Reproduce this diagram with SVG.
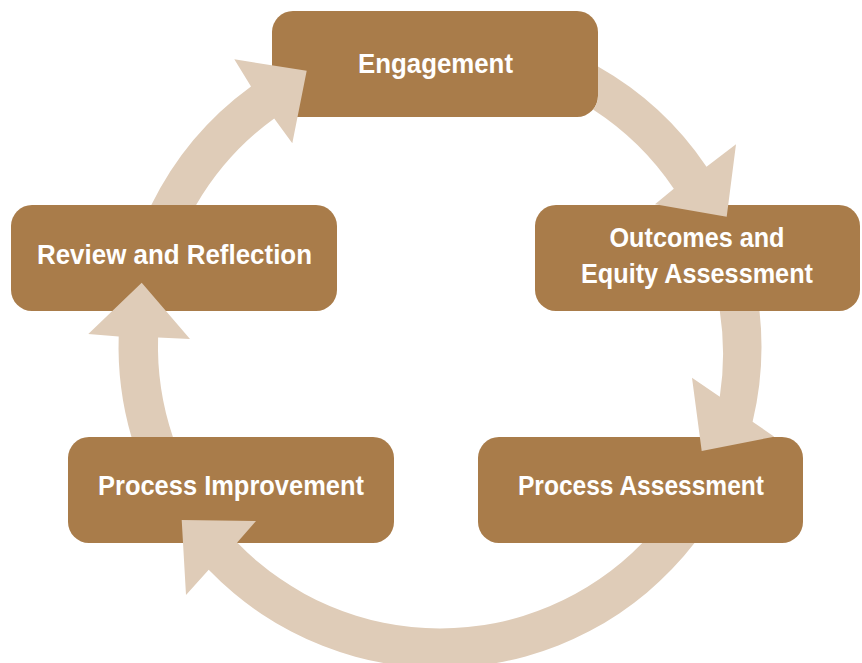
<svg xmlns="http://www.w3.org/2000/svg" width="862" height="663" viewBox="0 0 862 663">
<style>
.box{fill:#A97C4A}
.lbl{fill:#FFFFFF;font-family:"Liberation Sans",Arial,sans-serif;font-weight:bold;font-size:27px;text-anchor:middle}
.arr{fill:#DFCCB8}
</style>
<rect width="862" height="663" fill="#FFFFFF"/>
<g id="nodes">
<g id="engagement"><rect class="box" x="272" y="11" width="326" height="106" rx="21"/><text class="lbl" x="435.5" y="73" textLength="155" lengthAdjust="spacingAndGlyphs">Engagement</text></g>
<g id="outcomes"><rect class="box" x="535" y="205" width="325" height="106" rx="21"/><text class="lbl" x="697" y="247" textLength="175" lengthAdjust="spacingAndGlyphs">Outcomes and</text><text class="lbl" x="697" y="283" textLength="232" lengthAdjust="spacingAndGlyphs">Equity Assessment</text></g>
<g id="process-assessment"><rect class="box" x="478" y="437" width="325" height="106" rx="21"/><text class="lbl" x="641" y="495" textLength="246" lengthAdjust="spacingAndGlyphs">Process Assessment</text></g>
<g id="process-improvement"><rect class="box" x="68" y="437" width="326" height="106" rx="21"/><text class="lbl" x="231" y="495" textLength="266" lengthAdjust="spacingAndGlyphs">Process Improvement</text></g>
<g id="review"><rect class="box" x="11" y="205" width="326" height="106" rx="21"/><text class="lbl" x="174.5" y="264" textLength="275" lengthAdjust="spacingAndGlyphs">Review and Reflection</text></g>
</g>
<g id="connectors">
<path class="arr" d="M151.3,205 A321.5,321.5 0 0 1 251,86.4 L234.3,59.3 L306.7,70.7 L292.3,143.3 L274.2,118.4 A282,282 0 0 0 196.1,205 Z"/>
<path class="arr" d="M598,66.5 A321.5,321.5 0 0 1 706.5,166.7 L736,144.3 L726.7,216.7 L655,204.3 L673.8,188.8 A282,282 0 0 0 593,109.6 A21,21 0 0 0 598,96 Z"/>
<path class="arr" d="M759.5,311 A321.5,321.5 0 0 1 752.6,421.7 L774.3,436.7 L701.7,451 L692,377.7 L719.8,396.7 A282,282 0 0 0 719.8,311 Z"/>
<path class="arr" d="M694.5,543 A321.5,321.5 0 0 1 208.7,569.8 L186,595 L181.7,520 L256,521 L237.2,542.4 A282,282 0 0 0 642.3,543 Z"/>
<path class="arr" d="M131.5,437 A321.5,321.5 0 0 1 118.7,336.4 L88.3,334 L141.7,282.7 L190,339 L158.1,337.6 A282,282 0 0 0 172.9,437 Z"/>
</g>
</svg>
